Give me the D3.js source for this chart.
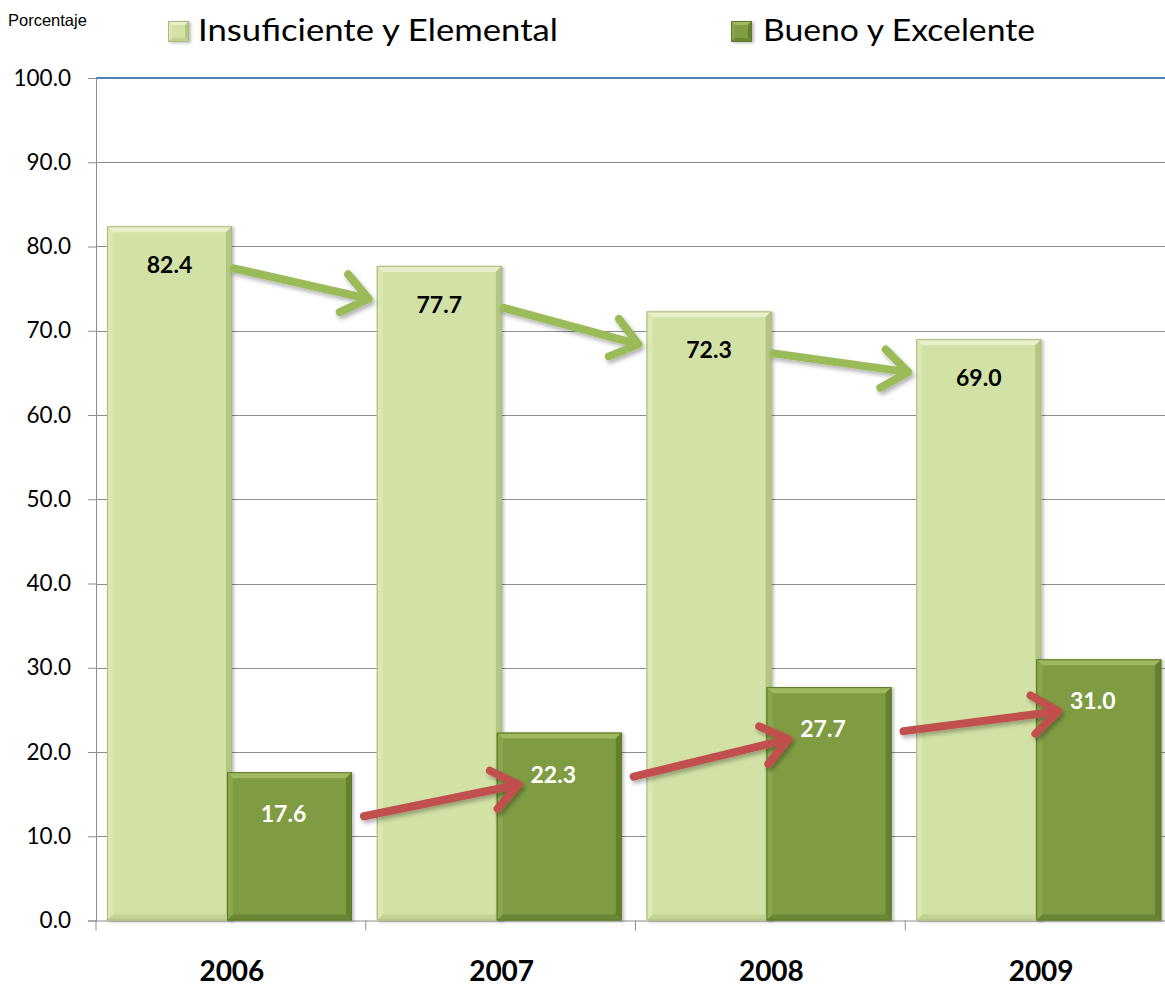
<!DOCTYPE html>
<html>
<head>
<meta charset="utf-8">
<script src="https://cdn.jsdelivr.net/npm/d3@7"></script>
<style>
  html, body { margin: 0; padding: 0; background: #fff; }
  svg { display: block; font-family: Lato, "Open Sans", sans-serif; }
</style>
</head>
<body>
<svg id="chart"></svg>
<script>
const years = ["2006", "2007", "2008", "2009"];
const insuficiente = [82.4, 77.7, 72.3, 69.0];
const bueno = [17.6, 22.3, 27.7, 31.0];
const yTicks = [0, 10, 20, 30, 40, 50, 60, 70, 80, 90, 100];
const seriesNames = ["Insuficiente y Elemental", "Bueno y Excelente"];

const w = 1165;
const h = 986;
const plotLeft = 96;
const bandW = 269.75;
const plotTop = 78;
const plotBottom = 920.5;

const svg = d3.select("#chart").attr("width", w).attr("height", h);

const x = d3.scaleBand().domain(years).range([plotLeft, plotLeft + bandW * years.length]).padding(0);
const y = d3.scaleLinear().domain([0, 100]).range([plotBottom, plotTop]);

const light = { base: "#d2e2a6", top: "#e7f0cb", left: "#dbe8b4", right: "#b3c682", bottom: "#c2d293", edge: "#a9bc7c" };
const dark = { base: "#7f9c42", top: "#a0b95e", left: "#8aa64c", right: "#62802e", bottom: "#6b8736", edge: "#5c7829" };

const defs = svg.append("defs");
defs.append("filter").attr("id", "shadow").attr("x", "-20%").attr("y", "-30%").attr("width", "140%").attr("height", "160%")
  .append("feDropShadow").attr("dx", 2).attr("dy", 3).attr("stdDeviation", 2.2)
  .attr("flood-color", "#000").attr("flood-opacity", 0.3);
defs.append("filter").attr("id", "barshadow").attr("x", "-10%").attr("y", "-10%").attr("width", "130%").attr("height", "120%")
  .append("feDropShadow").attr("dx", 2).attr("dy", 1).attr("stdDeviation", 1.5)
  .attr("flood-color", "#000").attr("flood-opacity", 0.25);

// grid
svg.append("g")
  .selectAll("line")
  .data(yTicks.filter((t) => t > 0 && t < 100))
  .enter()
  .append("line")
  .attr("x1", plotLeft).attr("x2", w)
  .attr("y1", (d) => Math.round(y(d)) + 0.5).attr("y2", (d) => Math.round(y(d)) + 0.5)
  .attr("stroke", "#8c8c8c").attr("stroke-width", 1);

svg.append("line")
  .attr("x1", plotLeft).attr("x2", w)
  .attr("y1", y(100)).attr("y2", y(100))
  .attr("stroke", "#4f81bd").attr("stroke-width", 2);

// axes
const yAxis = d3.axisLeft(y).tickValues(yTicks).tickSize(8).tickFormat(d3.format(".1f"));
const gy = svg.append("g").attr("transform", `translate(${plotLeft},0)`).call(yAxis);
gy.select(".domain").attr("stroke", "#8c8c8c");
gy.selectAll(".tick line").attr("stroke", "#8c8c8c");
gy.selectAll(".tick text").attr("x", -25).attr("font-size", 22.5).attr("fill", "#000")
  .attr("font-family", "Lato, sans-serif").attr("font-weight", 400);

const xAxis = d3.axisBottom(x).tickSize(10).tickSizeOuter(0).tickFormat("");
const gx = svg.append("g").attr("transform", `translate(0,${plotBottom})`).call(xAxis);
gx.select(".domain").attr("stroke", "#8c8c8c");
gx.selectAll(".tick").attr("transform", (d) => `translate(${x(d)},0)`);
gx.selectAll(".tick line").attr("stroke", "#8c8c8c");

svg.append("g")
  .selectAll("text")
  .data(years)
  .enter()
  .append("text")
  .attr("x", (d) => x(d) + bandW / 2 + 1)
  .attr("y", 981)
  .attr("text-anchor", "middle")
  .attr("font-size", 28).attr("font-weight", "bold")
  .text((d) => d);

// beveled bar
function bevelBar(g, x0, y0, bw, bh, c, b) {
  const x1 = x0 + bw, y1 = y0 + bh;
  const grp = g.append("g").attr("filter", "url(#barshadow)");
  grp.append("rect").attr("x", x0).attr("y", y0).attr("width", bw).attr("height", bh).attr("fill", c.base);
  const poly = (pts, fill) => grp.append("polygon").attr("points", pts.map((p) => p.join(",")).join(" ")).attr("fill", fill);
  poly([[x0, y0], [x1, y0], [x1 - b, y0 + b], [x0 + b, y0 + b]], c.top);
  poly([[x0, y0], [x0 + b, y0 + b], [x0 + b, y1 - b], [x0, y1]], c.left);
  poly([[x1, y0], [x1, y1], [x1 - b, y1 - b], [x1 - b, y0 + b]], c.right);
  poly([[x0, y1], [x0 + b, y1 - b], [x1 - b, y1 - b], [x1, y1]], c.bottom);
  grp.append("rect").attr("x", x0 + 0.5).attr("y", y0 + 0.5).attr("width", bw - 1).attr("height", bh - 1)
    .attr("fill", "none").attr("stroke", c.edge).attr("stroke-width", 1);
}

const barW = 125;
const lightX = (i) => x(years[i]) + 11;
const darkX = (i) => x(years[i]) + 131;

const bars = svg.append("g");
years.forEach((yr, i) => {
  bevelBar(bars, lightX(i), y(insuficiente[i]), barW, plotBottom - y(insuficiente[i]), light, 6);
  bevelBar(bars, darkX(i), y(bueno[i]), barW, plotBottom - y(bueno[i]), dark, 6);
});

// labels
svg.append("g").selectAll("text").data(insuficiente).enter().append("text")
  .attr("x", (d, i) => lightX(i) + barW / 2)
  .attr("y", (d) => y(d) + 47)
  .attr("text-anchor", "middle").attr("font-size", 23).attr("font-weight", "bold").attr("fill", "#000")
  .text((d) => d.toFixed(1));

svg.append("g").selectAll("text").data(bueno).enter().append("text")
  .attr("x", (d, i) => darkX(i) + barW / 2 - 6)
  .attr("y", (d) => y(d) + 50)
  .attr("text-anchor", "middle").attr("font-size", 23).attr("font-weight", "bold").attr("fill", "#fff")
  .text((d) => d.toFixed(1));

// trend arrows
function arrow(g, x0, y0, x1, y1, color) {
  const ang = Math.atan2(y1 - y0, x1 - x0);
  const len = 32, spread = 0.65;
  const a1 = [x1 - len * Math.cos(ang - spread), y1 - len * Math.sin(ang - spread)];
  const a2 = [x1 - len * Math.cos(ang + spread), y1 - len * Math.sin(ang + spread)];
  const grp = g.append("g").attr("filter", "url(#shadow)")
    .attr("stroke", color).attr("stroke-width", 8).attr("stroke-linecap", "round")
    .attr("stroke-linejoin", "round").attr("fill", "none");
  grp.append("line").attr("x1", x0).attr("y1", y0).attr("x2", x1 - 2 * Math.cos(ang)).attr("y2", y1 - 2 * Math.sin(ang));
  grp.append("polyline").attr("points", [a1, [x1, y1], a2].map((p) => p.join(",")).join(" "));
}

const arrows = svg.append("g");
for (let i = 0; i < years.length - 1; i++) {
  arrow(arrows, lightX(i) + barW + 2, y(insuficiente[i]) + 42,
    lightX(i + 1) - 8, y(insuficiente[i + 1]) + 33, "#9bbb59");
  arrow(arrows, darkX(i) + barW + 12, y(bueno[i]) + 44,
    darkX(i + 1) + 22, y(bueno[i + 1]) + 52, "#c0504d");
}

// legend
svg.append("text").attr("x", 8).attr("y", 26).attr("font-family", "Liberation Sans, Arial, sans-serif")
  .attr("font-size", 16.5).text("Porcentaje");

const legend = [
  { name: seriesNames[0], c: light, mx: 168, tx: 198, tl: 360 },
  { name: seriesNames[1], c: dark, mx: 731, tx: 763, tl: 272 }
];
legend.forEach((l) => {
  bevelBar(svg, l.mx, 21, 21, 21, l.c, 4);
  svg.append("text").attr("x", l.tx).attr("y", 41).attr("font-size", 31)
    .attr("textLength", l.tl).attr("lengthAdjust", "spacingAndGlyphs").text(l.name);
});
</script>
</body>
</html>
